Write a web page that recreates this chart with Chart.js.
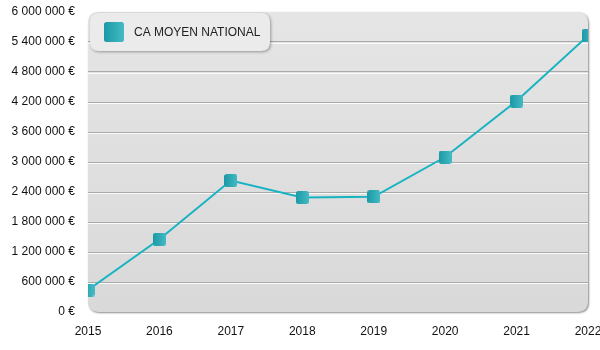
<!DOCTYPE html>
<html lang="fr">
<head>
<meta charset="utf-8">
<title>CA moyen national</title>
<script src="https://cdn.jsdelivr.net/npm/chart.js@4/dist/chart.umd.min.js"></script>
<style>
  html, body { margin: 0; padding: 0; background: #ffffff; }
  #wrap { width: 600px; height: 350px; }
</style>
</head>
<body>
<div id="wrap"><canvas id="chart" width="600" height="350"></canvas></div>
<script>
// Chiffre d'affaires moyen national par année
const years = ['2015', '2016', '2017', '2018', '2019', '2020', '2021', '2022'];
const caMoyen = [440000, 1455000, 2630000, 2290000, 2305000, 3100000, 4220000, 5525000];
const seriesLabel = 'CA MOYEN NATIONAL';
const yMin = 0;
const yMax = 6000000;
const yStep = 600000;

const FONT = '"Liberation Sans", Arial, Helvetica, sans-serif';

// "1 200 000 €" style: thousands grouped with plain spaces
function euros(v) {
  return String(Math.round(v)).replace(/\B(?=(\d{3})+(?!\d))/g, ' ') + ' €';
}

function roundRectPath(ctx, x, y, w, h, r) {
  ctx.beginPath();
  ctx.moveTo(x + r, y);
  ctx.lineTo(x + w - r, y);
  ctx.quadraticCurveTo(x + w, y, x + w, y + r);
  ctx.lineTo(x + w, y + h - r);
  ctx.quadraticCurveTo(x + w, y + h, x + w - r, y + h);
  ctx.lineTo(x + r, y + h);
  ctx.quadraticCurveTo(x, y + h, x, y + h - r);
  ctx.lineTo(x, y + r);
  ctx.quadraticCurveTo(x, y, x + r, y);
  ctx.closePath();
}

function tealGradient(ctx, x, w) {
  const g = ctx.createLinearGradient(x, 0, x + w, 0);
  g.addColorStop(0, '#1a9aa6');
  g.addColorStop(1, '#45bac4');
  return g;
}

// Rounded square marker used for each data point
function makeMarker(size) {
  const c = document.createElement('canvas');
  c.width = size; c.height = size;
  const ctx = c.getContext('2d');
  roundRectPath(ctx, 0, 0, size, size, 2.5);
  ctx.fillStyle = tealGradient(ctx, 0, size);
  ctx.fill();
  return c;
}
const marker = makeMarker(13);

// Grey rounded panel behind the plot
const panelPlugin = {
  id: 'panel',
  beforeDraw(chart) {
    const { ctx, chartArea: a } = chart;
    ctx.save();
    ctx.shadowColor = 'rgba(0,0,0,0.45)';
    ctx.shadowBlur = 2;
    ctx.shadowOffsetX = 1;
    ctx.shadowOffsetY = 1;
    const g = ctx.createLinearGradient(0, a.top, 0, a.bottom);
    g.addColorStop(0, '#e5e5e5');
    g.addColorStop(1, '#d9d9d9');
    ctx.fillStyle = g;
    roundRectPath(ctx, a.left, a.top, a.right - a.left, a.bottom - a.top, 11);
    ctx.fill();
    ctx.restore();
  },
  // light line under each grid line for an embossed look
  beforeDatasetsDraw(chart) {
    const { ctx, chartArea: a } = chart;
    const y = chart.scales.y;
    ctx.save();
    ctx.strokeStyle = 'rgba(255,255,255,0.85)';
    ctx.lineWidth = 1;
    y.ticks.forEach((t, i) => {
      if (i === 0 || i === y.ticks.length - 1) return;
      const py = Math.round(y.getPixelForValue(t.value)) + 1.5;
      ctx.beginPath();
      ctx.moveTo(a.left, py);
      ctx.lineTo(a.right, py);
      ctx.stroke();
    });
    ctx.restore();
  }
};

// Floating legend box in the top-left corner of the plot
const legendBoxPlugin = {
  id: 'legendBox',
  afterDraw(chart) {
    const { ctx, chartArea: a } = chart;
    const x = a.left + 2, y = a.top + 1, w = 180, h = 38;
    ctx.save();
    ctx.shadowColor = 'rgba(0,0,0,0.35)';
    ctx.shadowBlur = 3;
    ctx.shadowOffsetX = 1;
    ctx.shadowOffsetY = 1;
    ctx.fillStyle = '#ebebeb';
    roundRectPath(ctx, x, y, w, h, 9);
    ctx.fill();
    ctx.restore();

    ctx.save();
    const sx = x + 14, sy = y + 9, s = 20;
    roundRectPath(ctx, sx, sy, s, s, 2.5);
    ctx.fillStyle = tealGradient(ctx, sx, s);
    ctx.fill();
    ctx.fillStyle = '#222222';
    ctx.font = '12px ' + FONT;
    ctx.textBaseline = 'middle';
    ctx.textAlign = 'left';
    ctx.fillText(chart.data.datasets[0].label, x + 44, sy + s / 2 + 0.5);
    ctx.restore();
  }
};

new Chart(document.getElementById('chart'), {
  type: 'line',
  data: {
    labels: years,
    datasets: [{
      label: seriesLabel,
      data: caMoyen,
      borderColor: '#18b3c2',
      borderWidth: 2,
      tension: 0,
      fill: false,
      pointStyle: marker,
      pointRadius: 6,
      pointHoverRadius: 6,
      clip: 0
    }]
  },
  options: {
    responsive: false,
    animation: false,
    devicePixelRatio: 1,
    layout: { padding: { top: 12, right: 12, bottom: 0, left: 0 } },
    plugins: {
      legend: { display: false },
      tooltip: { enabled: false }
    },
    scales: {
      x: {
        offset: false,
        grid: { display: false, drawTicks: false },
        border: { display: false },
        ticks: {
          color: '#111111',
          font: { family: FONT, size: 12 },
          padding: 12,
          maxRotation: 0,
          autoSkip: false
        },
        afterFit(scale) {
          scale.height = 38;
          scale.paddingLeft = 0;
          scale.paddingRight = 0;
        }
      },
      y: {
        min: yMin,
        max: yMax,
        grid: {
          drawTicks: false,
          lineWidth: 1,
          color: (c) => (c.index === 0 || c.index === 10) ? 'rgba(0,0,0,0)' : '#a9a9a9'
        },
        border: { display: false },
        ticks: {
          stepSize: yStep,
          color: '#111111',
          font: { family: FONT, size: 12 },
          padding: 13,
          callback: (v) => euros(v)
        },
        afterFit(scale) {
          scale.width = 88;
          scale.paddingTop = 0;
          scale.paddingBottom = 0;
        }
      }
    }
  },
  plugins: [panelPlugin, legendBoxPlugin]
});
</script>
</body>
</html>
